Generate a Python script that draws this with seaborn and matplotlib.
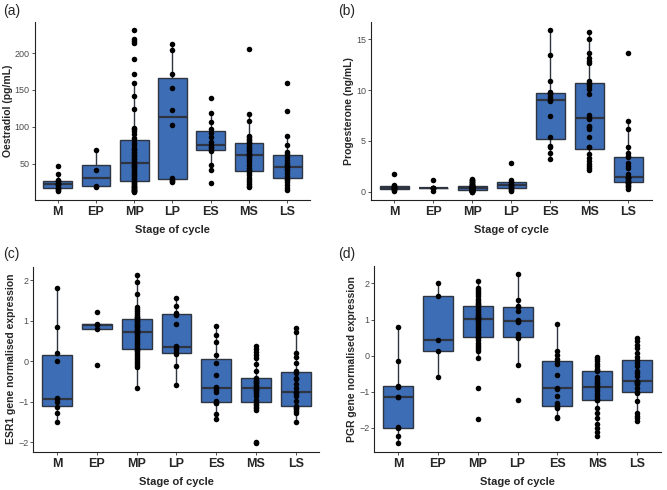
import matplotlib
matplotlib.use("Agg")
import matplotlib.pyplot as plt
import seaborn as sns
import pandas as pd

stages = ["M", "EP", "MP", "LP", "ES", "MS", "LS"]

# (a) Oestradiol (pg/mL), one list per stage
oestradiol = [
    [13, 15, 16, 17, 19, 21, 22, 23, 24, 26, 27, 28, 36, 47],
    [18.5, 20.5, 42, 68],
    [12, 13, 13.5, 14, 15, 16, 17, 18, 19, 20, 21, 22, 24, 25,
     27, 29, 31, 33, 35, 37, 38, 40, 42, 44, 45, 47, 48, 50,
     52, 54, 56, 58, 60, 62, 64, 66, 68, 70, 72, 75, 78, 82, 85,
     90, 94, 97, 99, 124, 142, 160, 171, 192, 213, 216, 219, 231],
    [25, 27, 28, 31, 103, 123, 152, 171, 204, 212],
    [24, 41, 49, 67, 69, 72, 73, 75, 79, 86, 92, 97, 106, 119, 139],
    [18, 20, 22, 25, 28, 31, 35, 38, 40, 41, 44, 48, 52, 55, 58, 60, 62,
     63, 65, 67, 69, 71, 73, 75, 78, 80, 82, 84, 86, 88, 108, 118, 205],
    [14, 17, 21, 25, 28, 30, 33, 37, 41, 43, 45, 47, 49, 51, 55, 59, 63,
     66, 76, 87, 121, 160],
]

# (b) Progesterone (ng/mL)
progesterone = [
    [0.1, 0.2, 0.25, 0.3, 0.35, 0.4, 0.45, 0.5, 0.55, 0.6, 0.65, 1.8],
    [0.1, 0.33, 0.35, 0.37, 0.38, 0.4, 1.15],
    [0.0, 0.02, 0.04, 0.06, 0.08, 0.1, 0.11, 0.12, 0.13, 0.14,
     0.15, 0.16, 0.17, 0.18, 0.2, 0.21, 0.22, 0.24, 0.25, 0.27,
     0.28, 0.3, 0.31, 0.33, 0.34, 0.36, 0.38, 0.39, 0.41, 0.43,
     0.44, 0.46, 0.48, 0.5, 0.52, 0.54, 0.56, 0.58, 0.62, 0.66,
     0.7, 0.75, 0.8, 0.86, 0.92, 0.98, 1.05, 1.12, 1.2, 1.3],
    [0.1, 0.2, 0.3, 0.35, 0.45, 0.6, 0.7, 0.8, 0.95, 1.0, 1.2, 2.8],
    [3.2, 3.85, 4.4, 4.5, 5.4, 7.5, 8.9, 9.05, 9.1, 9.3, 9.6, 9.75, 9.8,
     10.9, 13.5, 15.9],
    [2.1, 2.3, 2.5, 2.7, 3.0, 3.3, 3.7, 4.4, 4.45, 5.4, 6.2, 6.4, 6.5, 7.2,
     7.4, 7.6, 9.6, 10.1, 10.4, 10.6, 10.7, 10.9, 12.7, 12.9, 13.2, 13.7,
     15.0, 15.7],
    [0.3, 0.45, 0.6, 0.7, 0.85, 0.9, 1.0, 1.1, 1.2, 1.35, 1.4, 1.45, 1.5,
     1.8, 2.3, 2.55, 2.8, 3.45, 3.5, 3.8, 4.4, 6.2, 7.0, 13.7],
]

# (c) ESR1 gene normalised expression
esr1 = [
    [-1.49, -1.27, -1.14, -1.0, -0.94, -0.91, 0.0, 0.2, 0.84, 1.8],
    [-0.1, 0.79, 0.9, 0.93, 1.21],
    [-0.65, -0.15, -0.1, -0.05, 0.0, 0.05, 0.1, 0.15, 0.2, 0.25,
     0.28, 0.3, 0.32, 0.38, 0.42, 0.48, 0.52, 0.58, 0.62, 0.66,
     0.7, 0.72, 0.74, 0.78, 0.8, 0.84, 0.87, 0.9, 0.93, 0.96,
     1.0, 1.03, 1.06, 1.08, 1.1, 1.15, 1.2, 1.25, 1.3, 1.35,
     1.65, 1.95, 2.13],
    [-0.59, -0.12, 0.18, 0.22, 0.3, 0.34, 0.38, 0.91, 1.15, 1.2, 1.36, 1.55],
    [-1.42, -1.31, -1.04, -1.03, -0.98, -0.75, -0.7, -0.67, -0.63, -0.34,
     -0.05, 0.15, 0.47, 0.65, 0.88],
    [-2.03, -2.0, -1.2, -1.16, -1.12, -1.08, -1.05, -1.02, -0.95, -0.86,
     -0.8, -0.75, -0.72, -0.7, -0.68, -0.65, -0.62, -0.59, -0.55, -0.52,
     -0.5, -0.47, -0.41, -0.24, -0.07, 0.08, 0.16, 0.23, 0.3, 0.38],
    [-1.49, -1.27, -1.22, -1.17, -1.15, -1.13, -1.1, -0.98, -0.86, -0.8,
     -0.77, -0.75, -0.67, -0.57, -0.45, -0.41, -0.3, -0.24, -0.04, 0.1,
     0.2, 0.72, 0.82],
]

# (d) PGR gene normalised expression
pgr = [
    [-2.43, -2.23, -2.01, -1.99, -1.16, -1.14, -0.87, -0.85, -0.16, 0.8],
    [-0.58, 0.12, 0.42, 1.64, 2.0],
    [-1.77, -0.89, -0.06, 0.12, 0.18, 0.25, 0.3, 0.35, 0.42, 0.48,
     0.52, 0.55, 0.6, 0.65, 0.7, 0.75, 0.8, 0.85, 0.9, 0.95,
     1.0, 1.02, 1.04, 1.06, 1.08, 1.12, 1.15, 1.2, 1.25, 1.3,
     1.35, 1.4, 1.43, 1.47, 1.52, 1.58, 1.64, 1.7, 1.77, 1.82,
     1.87, 2.08],
    [-1.23, -0.25, 0.49, 0.52, 0.6, 0.92, 0.96, 1.0, 1.24, 1.35, 1.38,
     1.53, 2.26],
    [-1.74, -1.69, -1.46, -1.42, -1.38, -1.3, -1.12, -0.92, -0.9, -0.54,
     -0.23, -0.16, -0.1, 0.01, 0.14, 0.87],
    [-2.23, -2.13, -2.0, -1.9, -1.72, -1.58, -1.44, -1.24, -1.23, -1.2,
     -1.12, -1.05, -0.98, -0.92, -0.88, -0.85, -0.8, -0.75, -0.7, -0.65,
     -0.58, -0.42, -0.4, -0.38, -0.3, -0.22, -0.15, -0.1, -0.04],
    [-1.81, -1.72, -1.66, -1.58, -1.26, -1.03, -1.0, -0.89, -0.8, -0.76,
     -0.74, -0.72, -0.71, -0.57, -0.48, -0.43, -0.3, -0.2, -0.12, -0.04,
     0.07, 0.21, 0.3, 0.41, 0.49],
]

sns.set_style("ticks")
plt.rcParams["font.family"] = ["Liberation Sans", "DejaVu Sans"]

BOX_BLUE = "#3d6db5"
EDGE = "#2e3440"


def to_long(groups):
    rows = []
    for st, vals in zip(stages, groups):
        for v in vals:
            rows.append({"stage": st, "value": v})
    return pd.DataFrame(rows)


def draw(ax, groups, ylabel, yticks):
    df = to_long(groups)
    sns.boxplot(data=df, x="stage", y="value", order=stages, color=BOX_BLUE,
                saturation=1, width=0.75, linewidth=1.0, linecolor=EDGE,
                showfliers=False, capprops={"visible": False},
                medianprops={"linewidth": 1.6}, ax=ax)
    sns.stripplot(data=df, x="stage", y="value", order=stages, jitter=False,
                  color="black", size=4, ax=ax, zorder=3)
    lo, hi = df["value"].min(), df["value"].max()
    pad = 0.05 * (hi - lo)
    ax.set_ylim(lo - pad, hi + pad)
    ax.set_xlim(-0.6, 6.6)
    ax.set_yticks(yticks)
    ax.set_xticks(range(len(stages)))
    ax.set_xticklabels(stages, fontweight="bold", fontsize=9)
    ax.tick_params(axis="y", length=2.5, width=0.6, color=EDGE,
                   labelsize=6.5, labelcolor="#4d4d4d", pad=1)
    ax.tick_params(axis="x", length=2.5, width=0.6, color=EDGE, pad=2)
    ax.set_ylabel(ylabel, fontsize=7.5, fontweight="bold", labelpad=1.5)
    ax.set_xlabel("Stage of cycle", fontsize=8, fontweight="bold", labelpad=5)
    sns.despine(ax=ax)
    for s in ["left", "bottom"]:
        ax.spines[s].set_color("#222222")
        ax.spines[s].set_linewidth(0.8)


fig = plt.figure(figsize=(6.67, 4.9), dpi=100)
ax_a = fig.add_axes([0.052, 0.592, 0.413, 0.363])
ax_b = fig.add_axes([0.556, 0.592, 0.421, 0.363])
ax_c = fig.add_axes([0.050, 0.078, 0.429, 0.378])
ax_d = fig.add_axes([0.561, 0.078, 0.430, 0.380])

draw(ax_a, oestradiol, "Oestradiol (pg/mL)", [50, 100, 150, 200])
draw(ax_b, progesterone, "Progesterone (ng/mL)", [0, 5, 10, 15])
draw(ax_c, esr1, "ESR1 gene normalised expression", [-2, -1, 0, 1, 2])
draw(ax_d, pgr, "PGR gene normalised expression", [-2, -1, 0, 1, 2])

for lab, x, y in [("(a)", 0.004, 0.978), ("(b)", 0.507, 0.978),
                  ("(c)", 0.004, 0.482), ("(d)", 0.507, 0.482)]:
    fig.text(x, y, lab, fontsize=10, ha="left", va="center")

fig.savefig("out.png", dpi=100)
